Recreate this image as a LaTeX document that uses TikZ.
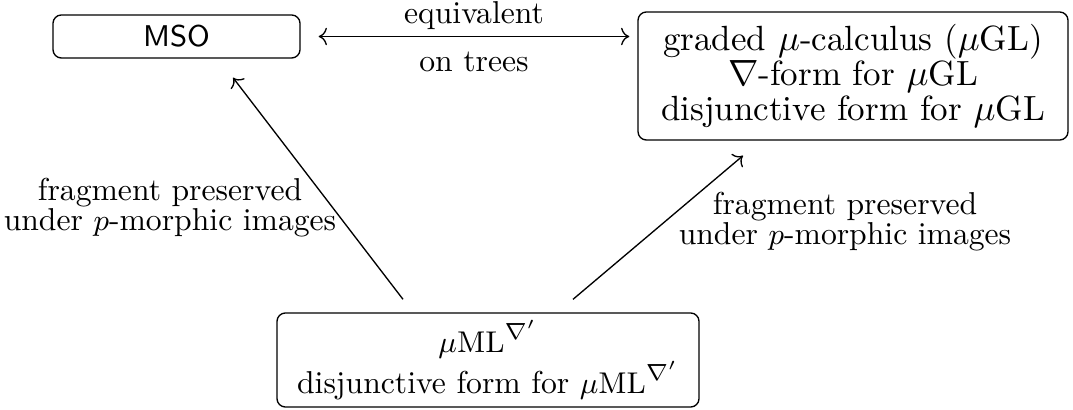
\documentclass[tikz,border=0pt]{standalone}
\usepackage{amsmath, amssymb}
\usetikzlibrary{arrows.meta, positioning}

\begin{document}
\begin{tikzpicture}[x=0.3pt, y=-0.3pt,
    logic/.style={draw=black, rounded corners=2.5pt, align=center, inner sep=0pt,
        font=\fontsize{10.5}{10.5}\selectfont},
    lbl/.style={align=center, inner sep=0pt, font=\fontsize{9.5}{9}\selectfont}]
    \useasboundingbox (0,0) rectangle (1073,410);
    % the three logics
    \node[logic, minimum width=74.1pt, minimum height=12.9pt,
        font=\fontsize{9}{9}\selectfont] (mso) at (176.5,36.5) {\textsf{MSO}};
    \node[logic, minimum width=129pt, minimum height=38.4pt] (gmu) at (853,76)
        {graded $\mu$-calculus ($\mu$GL)\\ $\nabla$-form for $\mu$GL\\ disjunctive form for $\mu$GL};
    \node[logic, minimum width=126.6pt, minimum height=28.2pt,
        font=\fontsize{9.5}{9.3}\selectfont] (mml) at (488,360)
        {$\mu\mathrm{ML}^{\nabla'}$\\ disjunctive form for $\mu\mathrm{ML}^{\nabla'}$};
    % connectors
    \draw[<->] ([xshift=5.4pt]mso.east) -- ([xshift=-2.4pt]gmu.west |- mso.east)
        node[midway, above, lbl, inner sep=2pt] (eq) {equivalent}
        node[midway, below, lbl, inner sep=4.5pt] (ot) {on trees};
    \draw[->] ([xshift=-25.5pt, yshift=3.9pt]mml.north) -- ([xshift=16.95pt, yshift=-5.7pt]mso.south);
    \draw[->] ([xshift=25.5pt, yshift=3.9pt]mml.north) -- ([xshift=-33pt, yshift=-4.5pt]gmu.south);
    \node[lbl] (fragL) at (170,208) {fragment preserved\\ under $p$-morphic images};
    \node[lbl] (fragR) at (845,222) {fragment preserved\\ under $p$-morphic images};
\end{tikzpicture}
\end{document}
